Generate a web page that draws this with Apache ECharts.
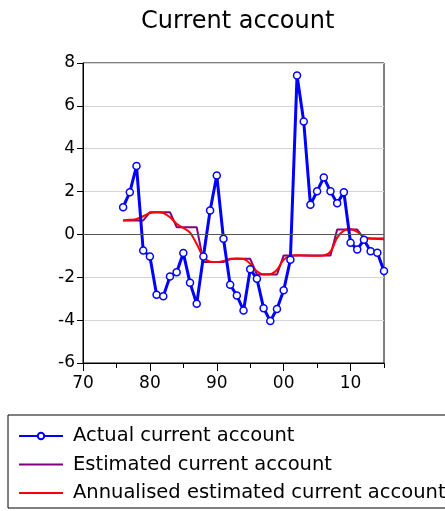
<!DOCTYPE html>
<html><head><meta charset="utf-8">
<script src="https://cdn.jsdelivr.net/npm/echarts@6/dist/echarts.min.js"></script>
<style>html,body{margin:0;padding:0;background:#fff}#c{width:445px;height:511px}</style>
</head><body><div id="c"></div>
<script>
const years = [1976,1977,1978,1979,1980,1981,1982,1983,1984,1985,1986,1987,1988,1989,1990,1991,1992,1993,1994,1995,1996,1997,1998,1999,2000,2001,2002,2003,2004,2005,2006,2007,2008,2009,2010,2011,2012,2013,2014,2015];
const actual = [1.27,1.97,3.19,-0.75,-1.03,-2.81,-2.89,-1.96,-1.76,-0.87,-2.26,-3.24,-1.03,1.12,2.75,-0.2,-2.35,-2.85,-3.55,-1.62,-2.07,-3.44,-4.04,-3.48,-2.61,-1.18,7.42,5.27,1.38,2.02,2.66,2.01,1.45,1.97,-0.39,-0.7,-0.25,-0.79,-0.85,-1.71];
const estimated = [0.65,0.65,0.65,0.65,1.04,1.04,1.04,1.04,0.34,0.34,0.34,0.34,-1.29,-1.29,-1.29,-1.29,-1.14,-1.14,-1.14,-1.14,-1.87,-1.87,-1.87,-1.87,-0.98,-0.98,-0.98,-0.98,-0.98,-0.98,-0.98,-0.98,0.23,0.23,0.23,0.23,-0.19,-0.19,-0.19,-0.19];
const annualised = [0.65,0.68,0.72,0.85,1.0,1.04,1.0,0.8,0.5,0.3,0.08,-0.45,-1.05,-1.27,-1.29,-1.24,-1.16,-1.12,-1.15,-1.37,-1.72,-1.86,-1.85,-1.65,-1.18,-1.0,-0.97,-0.98,-0.99,-0.99,-0.98,-0.8,-0.15,0.18,0.24,0.12,-0.12,-0.19,-0.21,-0.22];
const yTicks = [-6,-4,-2,0,2,4,6,8];
const xMajor = [1970,1980,1990,2000,2010];
const xMinor = [1975,1985,1995,2005,2015];
const xTickLabels = {1970:'70',1980:'80',1990:'90',2000:'00',2010:'10'};

const pairs = arr => years.map((y,i)=>[y,arr[i]]);
const font = 'DejaVu Sans, sans-serif';
const chart = echarts.init(document.getElementById('c'), null, {renderer:'canvas'});
chart.setOption({
  animation:false,
  backgroundColor:'#fff',
  title:{text:'Current account',left:136,top:5,textStyle:{fontFamily:font,fontSize:24,fontWeight:'normal',color:'#000'}},
  grid:{left:83,right:61,top:63,bottom:148,show:true,borderColor:'#000',borderWidth:1,backgroundColor:'transparent'},
  xAxis:[
    {type:'value',min:1970,max:2015,
      axisLine:{show:true,onZero:false,lineStyle:{color:'#000',width:1}},
      axisTick:{show:true,inside:false,length:8,customValues:xMajor,lineStyle:{color:'#000'}},
      splitLine:{show:false},
      axisLabel:{fontFamily:font,fontSize:17,color:'#000',margin:12,customValues:xMajor,formatter:v=>xTickLabels[v]||''}},
    {type:'value',min:1970,max:2015,position:'bottom',
      axisLine:{show:false,onZero:false},
      axisTick:{show:true,inside:false,length:5,customValues:xMinor,lineStyle:{color:'#000'}},
      splitLine:{show:false},axisLabel:{show:false}}
  ],
  yAxis:{type:'value',min:yTicks[0],max:yTicks[yTicks.length-1],interval:2,
    axisLine:{show:true,lineStyle:{color:'#000',width:1}},
    axisTick:{show:true,inside:false,length:6,lineStyle:{color:'#000'}},
    splitLine:{show:true,lineStyle:{color:'#d4d4d4',width:1}},
    axisLabel:{fontFamily:font,fontSize:17,color:'#000',margin:8}},
  legend:{orient:'vertical',left:8,bottom:3,padding:[11,10,5,10],itemGap:8.5,itemWidth:44,itemHeight:8,
    borderColor:'#000',borderWidth:1,
    textStyle:{fontFamily:font,fontSize:19.5,color:'#000',padding:[0,0,0,5]},
    data:[
      {name:'Actual current account'},
      {name:'Estimated current account',itemStyle:{opacity:0}},
      {name:'Annualised estimated current account',itemStyle:{opacity:0}}
    ]},
  series:[
    {name:'Estimated current account',type:'line',data:pairs(estimated),symbol:'none',
      lineStyle:{color:'#800080',width:2},itemStyle:{color:'#800080'},z:2,
      markLine:{silent:true,symbol:'none',label:{show:false},lineStyle:{color:'#555',width:1,type:'solid'},data:[{yAxis:0}]}},
    {name:'Annualised estimated current account',type:'line',data:pairs(annualised),symbol:'none',smooth:0.4,
      lineStyle:{color:'#ff0000',width:2},itemStyle:{color:'#ff0000'},z:3},
    {name:'Actual current account',type:'line',data:pairs(actual),symbol:'circle',symbolSize:7,showAllSymbol:true,
      lineStyle:{color:'#0000ff',width:3},itemStyle:{color:'#fff',borderColor:'#0000ff',borderWidth:1.5},z:4}
  ]
});
</script></body></html>
